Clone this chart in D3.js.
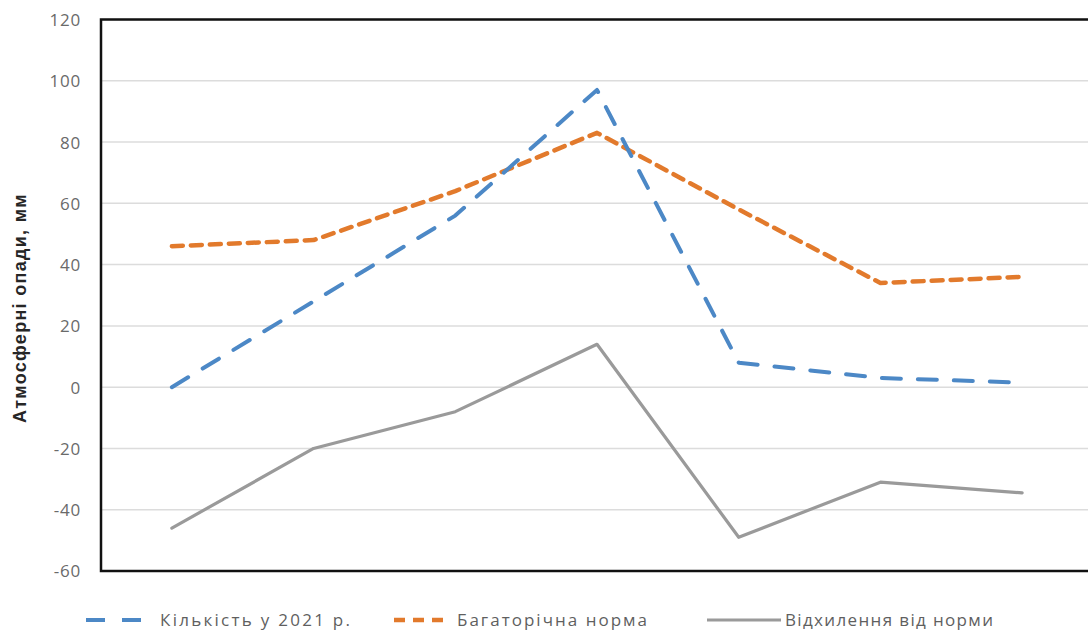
<!DOCTYPE html>
<html>
<head>
<meta charset="utf-8">
<script src="https://cdn.jsdelivr.net/npm/d3@7"></script>
<style>
  html, body { margin: 0; padding: 0; background: #fff; }
  svg { display: block; }
</style>
</head>
<body>
<svg id="chart" width="1088" height="637"></svg>
<script>
// Precipitation by period, mm
const categories = ["1", "2", "3", "4", "5", "6", "7"];
const actual2021 = [0, 28, 56, 97, 8, 3, 1.5];
const longTermNorm = [46, 48, 64, 83, 58, 34, 36];
const deviation = [-46, -20, -8, 14, -49, -31, -34.5];
const yTicks = [-60, -40, -20, 0, 20, 40, 60, 80, 100, 120];
const seriesNames = ["Кількість у 2021 р.", "Багаторічна норма", "Відхилення від норми"];

const svg = d3.select("#chart");
const plot = { left: 101, top: 19.5, right: 1093, bottom: 571 };

const x = d3.scaleBand().domain(categories).range([plot.left, plot.right]);
const y = d3.scaleLinear().domain([-60, 120]).range([plot.bottom, plot.top]);
const cx = d => x(d) + x.bandwidth() / 2;

// gridlines
svg.append("g")
  .selectAll("line")
  .data(yTicks)
  .join("line")
  .attr("x1", plot.left).attr("x2", plot.right)
  .attr("y1", d => y(d)).attr("y2", d => y(d))
  .attr("stroke", "#dcdcdc").attr("stroke-width", 1.5);

// y axis labels (plain hyphen for negatives)
const yAxis = d3.axisLeft(y).tickValues(yTicks).tickSize(0).tickPadding(0)
  .tickFormat(d => String(d));
const gy = svg.append("g").attr("transform", `translate(${plot.left - 20},0)`).call(yAxis);
gy.select(".domain").remove();
gy.selectAll("text")
  .attr("fill", "#6a6a6a")
  .attr("font-family", "'Open Sans', 'DejaVu Sans', sans-serif")
  .attr("font-size", 17)
  .attr("letter-spacing", 0.8)
  .attr("dy", "0.35em");

// axis title
svg.append("text")
  .attr("transform", `translate(26,308) rotate(-90)`)
  .attr("text-anchor", "middle")
  .attr("font-family", "'Liberation Sans', Arial, sans-serif")
  .attr("font-weight", "bold")
  .attr("font-size", 18)
  .attr("letter-spacing", 1.3)
  .attr("fill", "#262626")
  .text("Атмосферні опади, мм");

const line = d3.line().x((d, i) => cx(categories[i])).y(d => y(d));

const series = [
  { name: seriesNames[2], values: deviation, color: "#9a9a9a", width: 3.2, dash: null },
  { name: seriesNames[1], values: longTermNorm, color: "#e27a2c", width: 4.5, dash: "11 8" },
  { name: seriesNames[0], values: actual2021, color: "#4c88c6", width: 4, dash: "19 17" }
];

svg.append("g")
  .selectAll("path")
  .data(series)
  .join("path")
  .attr("d", s => line(s.values))
  .attr("fill", "none")
  .attr("stroke", s => s.color)
  .attr("stroke-width", s => s.width)
  .attr("stroke-dasharray", s => s.dash)
  .attr("stroke-linecap", "round")
  .attr("stroke-linejoin", "round");

// plot frame
svg.append("rect")
  .attr("x", plot.left).attr("y", plot.top)
  .attr("width", plot.right - plot.left).attr("height", plot.bottom - plot.top)
  .attr("fill", "none").attr("stroke", "#111").attr("stroke-width", 2.5);

// legend: sample line span, label start and label width
const legendItems = [
  { s: series[2], x0: 86, x1: 142, tx: 160, tw: 190 },
  { s: series[1], x0: 394, x1: 443, tx: 457, tw: 190 },
  { s: series[0], x0: 707, x1: 781, tx: 785, tw: 208 }
];
const leg = svg.append("g").selectAll("g").data(legendItems).join("g");
leg.append("line")
  .attr("x1", d => d.x0).attr("x2", d => d.x1)
  .attr("y1", 620).attr("y2", 620)
  .attr("stroke", d => d.s.color)
  .attr("stroke-width", d => d.s.width)
  .attr("stroke-dasharray", d => d.s.dash)
  .attr("stroke-linecap", "butt");
leg.append("text")
  .attr("x", d => d.tx).attr("y", 620)
  .attr("dy", "0.35em")
  .attr("fill", "#5f5f5f")
  .attr("font-family", "'Open Sans', 'DejaVu Sans', sans-serif")
  .attr("font-size", 17)
  .attr("textLength", d => d.tw)
  .attr("lengthAdjust", "spacing")
  .text(d => d.s.name);
</script>
</body>
</html>
